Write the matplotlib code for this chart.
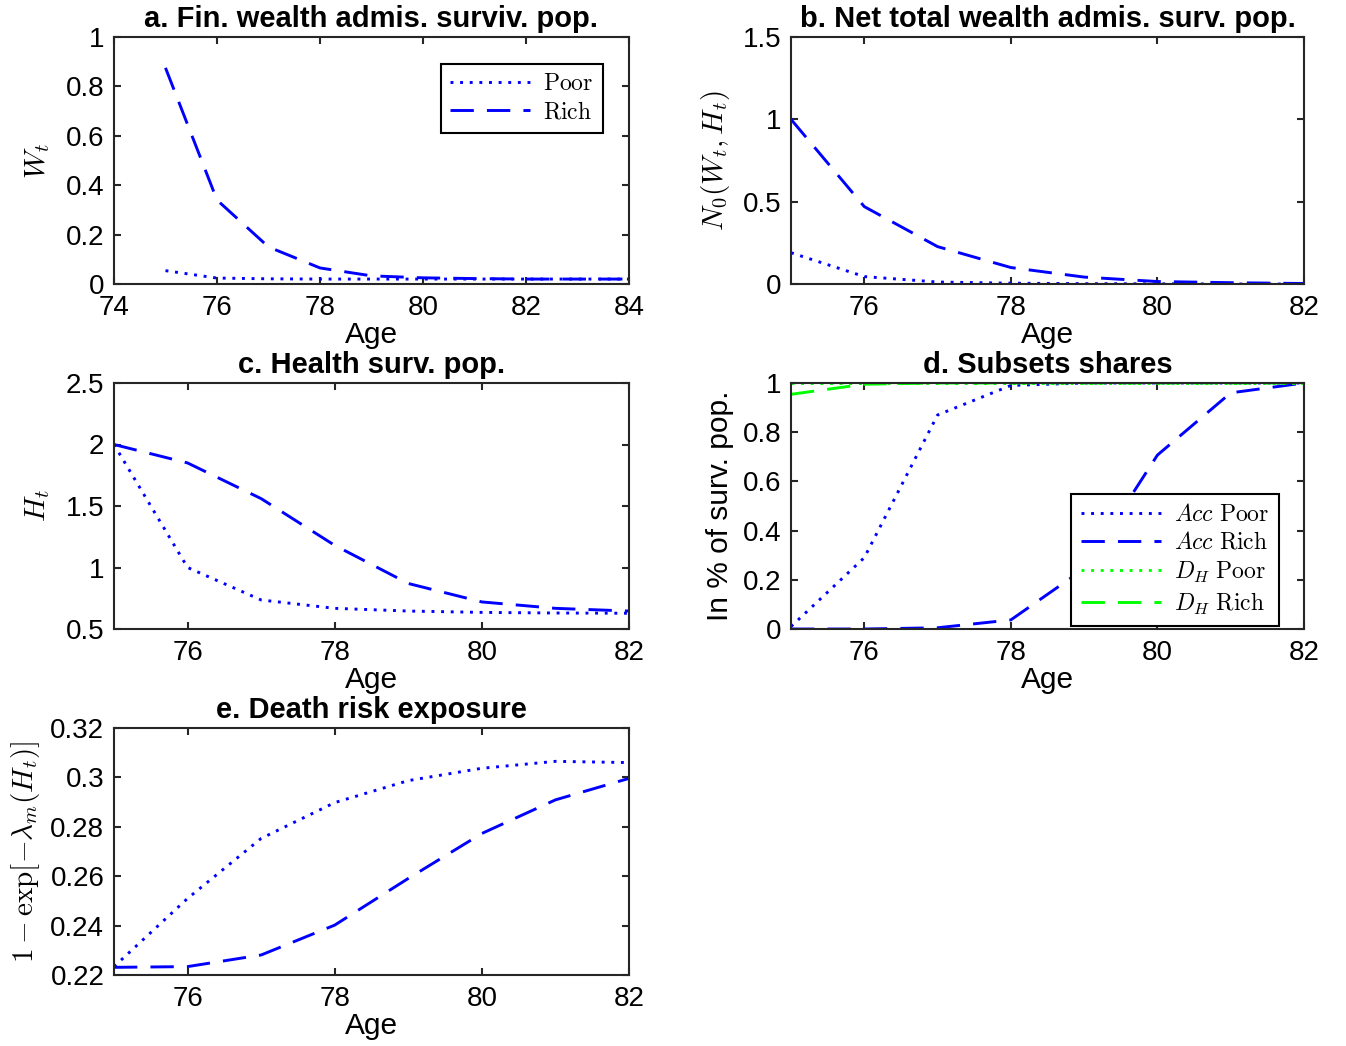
import numpy as np
import matplotlib
matplotlib.use("Agg")
import matplotlib.pyplot as plt
from matplotlib.ticker import FuncFormatter

# ---- data ----
age_a = [75, 76, 77, 78, 79, 80, 81, 82, 83, 84]
wealth_poor = [0.054, 0.024, 0.021, 0.020, 0.020, 0.020, 0.020, 0.020, 0.020, 0.020]
wealth_rich = [0.875, 0.34, 0.15, 0.065, 0.033, 0.025, 0.022, 0.020, 0.020, 0.020]

age = [75, 76, 77, 78, 79, 80, 81, 82]
netw_poor = [0.19, 0.045, 0.012, 0.005, 0.002, 0.001, 0.0, 0.0]
netw_rich = [1.0, 0.47, 0.227, 0.10, 0.042, 0.015, 0.008, 0.003]

health_poor = [2.0, 1.0, 0.736, 0.668, 0.646, 0.635, 0.630, 0.628]
health_rich = [2.0, 1.85, 1.56, 1.18, 0.87, 0.72, 0.668, 0.646]

acc_poor = [0.01, 0.29, 0.87, 0.99, 1.0, 1.0, 1.0, 1.0]
acc_rich = [0.0, 0.0, 0.005, 0.037, 0.245, 0.707, 0.96, 1.0]
dh_poor = [1.0, 1.0, 1.0, 1.0, 1.0, 1.0, 1.0, 1.0]
dh_rich = [0.954, 0.995, 1.0, 1.0, 1.0, 1.0, 1.0, 1.0]

death_poor = [0.2234, 0.251, 0.2753, 0.2898, 0.2987, 0.3037, 0.3065, 0.306]
death_rich = [0.2231, 0.2234, 0.2281, 0.2402, 0.2591, 0.2773, 0.2909, 0.2996]

# ---- style ----
plt.rcParams["font.family"] = ["Liberation Sans", "DejaVu Sans"]
plt.rcParams["mathtext.fontset"] = "cm"

AX_COL = (0.15, 0.15, 0.15)
BLUE = (0, 0, 1)
GREEN = (0, 1, 0)
LW = 2.1
DOT = (1, 2.3)
DASH = (8, 4.5)
TICK_FS = 20
LABEL_FS = 21.5
TITLE_FS = 21
MATH_FS = 21
LEG_FS = 17
TITLE_PAD = 7.5

fmt = FuncFormatter(lambda v, p: "%g" % round(v, 6))

fig = plt.figure(figsize=(13.46, 10.46), dpi=100)
W, H = 1346.0, 1046.0


def make_ax(left, top, right, bottom):
    return fig.add_axes([left / W, 1 - bottom / H, (right - left) / W, (bottom - top) / H])


def style(ax, xlim, ylim, yticks, xticks):
    ax.set_xlim(*xlim)
    ax.set_ylim(*ylim)
    ax.set_xticks(xticks)
    ax.set_yticks(yticks)
    ax.xaxis.set_major_formatter(fmt)
    ax.yaxis.set_major_formatter(fmt)
    for s in ax.spines.values():
        s.set_color(AX_COL)
        s.set_linewidth(1.5)
    ax.tick_params(direction="in", top=True, right=True, length=5, width=1.5,
                   colors=AX_COL, labelcolor="black", labelsize=TICK_FS)
    ax.tick_params(axis="x", pad=8)
    ax.tick_params(axis="y", pad=7)
    ax.set_xlabel("Age", fontsize=LABEL_FS, labelpad=0)


def leg(ax, loc, anchor):
    lg = ax.legend(loc=loc, bbox_to_anchor=anchor, fontsize=LEG_FS, handlelength=3.4,
                   labelspacing=0.25, borderpad=0.4, handletextpad=0.55,
                   fancybox=False, framealpha=1, edgecolor="black", borderaxespad=0)
    lg.get_frame().set_linewidth(1.5)


# a. financial wealth
ax = make_ax(114, 37, 629, 284)
ax.plot(age_a, wealth_poor, color=BLUE, lw=LW, dashes=DOT, label=r"$\mathrm{Poor}$")
ax.plot(age_a, wealth_rich, color=BLUE, lw=LW, dashes=DASH, label=r"$\mathrm{Rich}$")
style(ax, (74, 84), (0, 1), np.arange(0, 1.01, 0.2), range(74, 85, 2))
ax.set_ylabel(r"$W_t$", fontsize=MATH_FS, labelpad=10)
ax.set_title("a. Fin. wealth admis. surviv. pop.", fontsize=TITLE_FS, fontweight="bold", pad=TITLE_PAD)
leg(ax, "upper right", (0.9495, 0.891))

# b. net total wealth
ax = make_ax(791, 37, 1304, 284)
ax.plot(age, netw_poor, color=BLUE, lw=LW, dashes=DOT)
ax.plot(age, netw_rich, color=BLUE, lw=LW, dashes=DASH)
style(ax, (75, 82), (0, 1.5), [0, 0.5, 1, 1.5], [76, 78, 80, 82])
ax.set_ylabel(r"$N_0(W_t,H_t)$", fontsize=MATH_FS, labelpad=8)
ax.set_title("b. Net total wealth admis. surv. pop.", fontsize=TITLE_FS, fontweight="bold", pad=TITLE_PAD)

# c. health
ax = make_ax(114, 383, 629, 629)
ax.plot(age, health_poor, color=BLUE, lw=LW, dashes=DOT)
ax.plot(age, health_rich, color=BLUE, lw=LW, dashes=DASH)
style(ax, (75, 82), (0.5, 2.5), [0.5, 1, 1.5, 2, 2.5], [76, 78, 80, 82])
ax.set_ylabel(r"$H_t$", fontsize=MATH_FS, labelpad=10)
ax.set_title("c. Health surv. pop.", fontsize=TITLE_FS, fontweight="bold", pad=TITLE_PAD)

# d. subsets shares
ax = make_ax(791, 383, 1304, 629)
ax.plot(age, acc_poor, color=BLUE, lw=LW, dashes=DOT, label=r"$Acc\ \mathrm{Poor}$")
ax.plot(age, acc_rich, color=BLUE, lw=LW, dashes=DASH, label=r"$Acc\ \mathrm{Rich}$")
ax.plot(age, dh_poor, color=GREEN, lw=LW, dashes=DOT, label=r"$D_H\ \mathrm{Poor}$")
ax.plot(age, dh_rich, color=GREEN, lw=LW, dashes=DASH, label=r"$D_H\ \mathrm{Rich}$")
style(ax, (75, 82), (0, 1), np.arange(0, 1.01, 0.2), [76, 78, 80, 82])
ax.set_ylabel("In % of surv. pop.", fontsize=LABEL_FS, labelpad=6)
ax.set_title("d. Subsets shares", fontsize=TITLE_FS, fontweight="bold", pad=TITLE_PAD)
leg(ax, "lower right", (0.951, 0.012))

# e. death risk exposure
ax = make_ax(114, 728, 629, 975)
ax.plot(age, death_poor, color=BLUE, lw=LW, dashes=DOT)
ax.plot(age, death_rich, color=BLUE, lw=LW, dashes=DASH)
style(ax, (75, 82), (0.22, 0.32), np.arange(0.22, 0.3201, 0.02), [76, 78, 80, 82])
ax.set_ylabel(r"$1-\exp[-\lambda_m(H_t)]$", fontsize=MATH_FS, labelpad=6)
ax.set_title("e. Death risk exposure", fontsize=TITLE_FS, fontweight="bold", pad=TITLE_PAD)

fig.savefig("out.png", dpi=100)
